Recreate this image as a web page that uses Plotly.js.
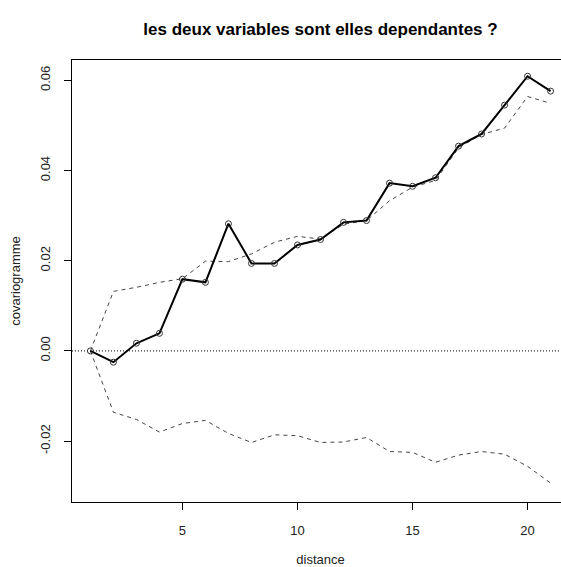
<!DOCTYPE html>
<html>
<head>
<meta charset="utf-8">
<script src="https://cdn.plot.ly/plotly-3.0.1.min.js"></script>
<style>
html, body { margin: 0; padding: 0; overflow: hidden; background: #fff; width: 561px; height: 567px; }
#chart { width: 580px; height: 567px; }
</style>
</head>
<body>
<div id="chart"></div>
<script>
const distance = [1,2,3,4,5,6,7,8,9,10,11,12,13,14,15,16,17,18,19,20,21];
const covariogramme = [0, -0.0025, 0.0017, 0.0039, 0.0159, 0.0152, 0.0282, 0.0194, 0.0194, 0.0235, 0.0247, 0.0285, 0.0289, 0.0372, 0.0365, 0.0384, 0.0454, 0.0481, 0.0545, 0.0609, 0.0576];
const upperEnvelope = [0, 0.0132, 0.0141, 0.0152, 0.0160, 0.0199, 0.0198, 0.0215, 0.0241, 0.0254, 0.0248, 0.0281, 0.0289, 0.0333, 0.0363, 0.0378, 0.0450, 0.0480, 0.0494, 0.0564, 0.0549];
const lowerEnvelope = [0, -0.0136, -0.0152, -0.0180, -0.0161, -0.0154, -0.0183, -0.0203, -0.0186, -0.0188, -0.0203, -0.0202, -0.0192, -0.0223, -0.0225, -0.0247, -0.0231, -0.0223, -0.0229, -0.0256, -0.0293];
const zeroRef = [0, 0];
const zeroX = [0.2, 21.8];
const xTicks = [5, 10, 15, 20];
const yTicks = [-0.02, 0, 0.02, 0.04, 0.06];
const yTickLabels = ["-0.02", "0.00", "0.02", "0.04", "0.06"];

const font = "Liberation Sans, Arial, Helvetica, sans-serif";
const textColor = "#222";

const traces = [
  { x: zeroX, y: zeroRef, mode: "lines", line: { color: "#000", width: 1, dash: "1px,2px" }, hoverinfo: "skip" },
  { x: distance, y: upperEnvelope, mode: "lines", line: { color: "#444", width: 1, dash: "4px,4px" } },
  { x: distance, y: lowerEnvelope, mode: "lines", line: { color: "#444", width: 1, dash: "4px,4px" } },
  { x: distance, y: covariogramme, mode: "lines+markers",
    line: { color: "#000", width: 2 },
    marker: { symbol: "circle-open", size: 6, color: "#333", line: { width: 1, color: "#333" } } }
];

const layout = {
  width: 580, height: 567,
  margin: { l: 72, r: 11, t: 60, b: 65 },
  paper_bgcolor: "#fff", plot_bgcolor: "#fff",
  showlegend: false,
  font: { family: font, size: 13, color: textColor },
  title: { text: "<b>les deux variables sont elles dependantes ?</b>", xref: "paper", x: 0.5, xanchor: "center",
           yref: "container", y: 1 - 29/567, yanchor: "middle",
           font: { family: font, size: 17, color: "#000" } },
  xaxis: {
    range: [0.2, 21.8], tickvals: xTicks, ticktext: xTicks.map(String),
    showgrid: false, zeroline: false, showline: true, mirror: true, linecolor: "#000", linewidth: 1,
    ticks: "outside", ticklen: 7, tickcolor: "#000", tickwidth: 1,
    ticklabelstandoff: 9,
    tickfont: { family: font, size: 13, color: textColor },
    title: { text: "distance", standoff: 23, font: { family: font, size: 13, color: textColor } },
    automargin: false
  },
  yaxis: {
    range: [-0.0335, 0.0645], tickvals: yTicks, ticktext: yTickLabels, tickangle: -90,
    showgrid: false, zeroline: false, showline: true, mirror: true, linecolor: "#000", linewidth: 1,
    ticks: "outside", ticklen: 7, tickcolor: "#000", tickwidth: 1,
    ticklabelstandoff: 9,
    tickfont: { family: font, size: 13, color: textColor },
    title: { text: "covariogramme", standoff: 14, font: { family: font, size: 13, color: textColor } },
    automargin: false
  }
};

Plotly.newPlot("chart", traces, layout, { staticPlot: true, displayModeBar: false });
</script>
</body>
</html>
